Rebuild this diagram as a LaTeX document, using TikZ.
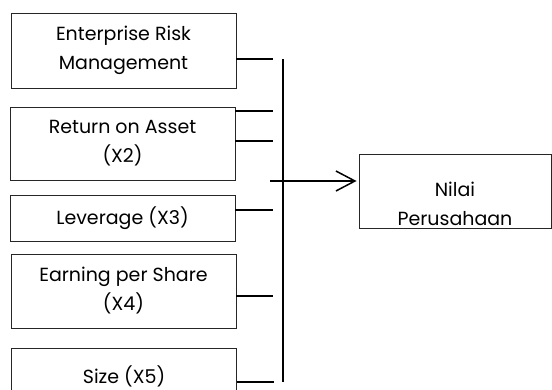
\documentclass[tikz,border=0pt]{standalone}
\usepackage{fontspec}
\setmainfont{Poppins}
\usetikzlibrary{arrows.meta}

\tikzset{
  box/.style={draw=black!85, line width=0.9pt, minimum width=225pt, align=center, inner sep=0pt,
    font=\fontsize{19}{29}\selectfont},
  conn/.style={line width=1.5pt},
}

\begin{document}
\begin{tikzpicture}[x=1pt,y=-1pt]

      \clip (0,0) rectangle (552,389); % page

      \node[box, minimum height=75pt] (erm) at (123.5,50.5) {Enterprise Risk\\Management};
      \node[box, minimum height=73pt] (roa) at (122.5,143.5) {Return on Asset\\(X2)};
      \node[box, minimum height=46pt] (lev) at (122.5,218) {Leverage (X3)};
      \node[box, minimum height=74pt] (eps) at (123.5,291) {Earning per Share\\(X4)};
      \node[box, minimum height=56pt] (size) at (124,376) {Size (X5)};

      \node[box, minimum width=192pt, minimum height=74pt] (nilai) at (455,191) {}; % y-box
      \node[box, draw=none] (nilaitxt) at ([yshift=-13pt]nilai.center) {Nilai\\Perusahaan};

      \coordinate (bustop) at (283,59);
      \coordinate (busbot) at (283,382);
      \draw[conn] (bustop) -- (busbot); % bus

      \draw[conn] (erm.east |- 0,59) -- ++(37,0);
      \draw[conn] (roa.east |- 0,111) -- ++(38,0);
      \draw[conn] (roa.east |- 0,141) -- ++(38,0);
      \draw[conn] (lev.east |- 0,210) -- ++(38,0);
      \draw[conn] (eps.east |- 0,296) -- ++(37,0);
      \draw[conn] (size.east |- 0,382) -- ++(37,0);

      \coordinate (arrstart) at (270,181);
      \draw[conn, -{Straight Barb[length=19pt,width=20pt,line width=1.5pt]}] (arrstart) -- ([xshift=-2pt]nilai.west |- arrstart); % y-arrow

\end{tikzpicture}
\end{document}
